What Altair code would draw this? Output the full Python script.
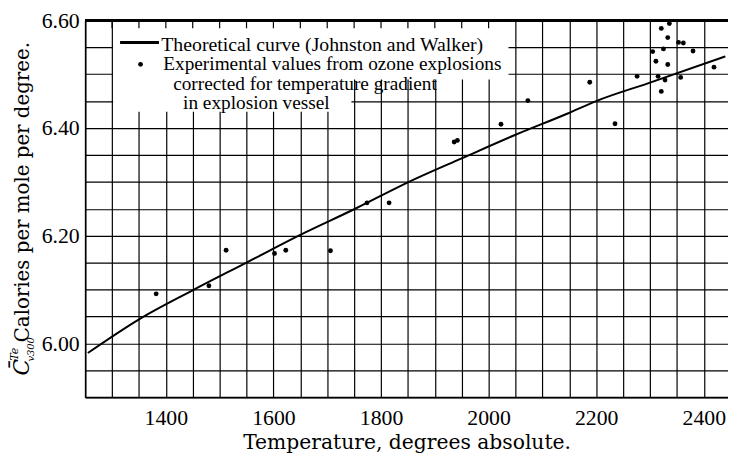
import altair as alt
import pandas as pd

# ---- data ----
curve_T = [1255, 1351, 1449, 1550, 1649, 1752, 1850, 1951, 2049, 2147, 2200, 2296, 2440]
curve_Cv = [5.982, 6.045, 6.098, 6.150, 6.201, 6.250, 6.299, 6.344, 6.387, 6.427, 6.450, 6.483, 6.533]

exp_T = [1382, 1480, 1512, 1602, 1623, 1706, 1774, 1815, 1936, 1942, 2023, 2073, 2188, 2235, 2276,
         2321, 2336, 2333, 2353, 2362, 2305, 2325, 2380, 2311, 2333, 2315, 2328, 2357, 2419, 2321]
exp_Cv = [6.092, 6.107, 6.173, 6.167, 6.173, 6.172, 6.261, 6.261, 6.374, 6.377, 6.407, 6.451, 6.485, 6.408, 6.496,
          6.585, 6.594, 6.568, 6.559, 6.558, 6.542, 6.547, 6.543, 6.524, 6.518, 6.496, 6.489, 6.494, 6.513, 6.468]

x_grid = list(range(1250, 2445, 50))
y_grid = [round(5.90 + 0.05 * i, 2) for i in range(15)]

legend_lines = [
    "Theoretical curve  (Johnston and Walker)",
    "Experimental values from ozone explosions",
    "corrected for temperature gradient",
    "in explosion vessel",
]

curve_df = pd.DataFrame({"T": curve_T, "Cv": curve_Cv})
exp_df = pd.DataFrame({"T": exp_T, "Cv": exp_Cv})
box_df = pd.DataFrame({"T": [1302, 1302], "T2": [2037, 1745], "Cv": [6.49, 6.43], "Cv2": [6.598, 6.598]})
tick_df = pd.DataFrame({"T": [v for v in x_grid if 1300 <= v <= 2000]})

TEXT_FONT = "DejaVu Serif"
NUM_FONT = "Liberation Serif"

xscale = alt.Scale(domain=[1250, 2445], nice=False, zero=False)
yscale = alt.Scale(domain=[5.90, 6.60], nice=False, zero=False)
xaxis = alt.Axis(
    values=x_grid, grid=True, ticks=False,
    labelExpr="datum.value % 200 == 0 ? datum.label : ''", format="d",
    title="Temperature, degrees absolute.", labelPadding=11, titlePadding=4,
)
yaxis = alt.Axis(
    values=y_grid, grid=True, ticks=False,
    labelExpr="round(datum.value * 100) % 20 == 0 ? format(datum.value, '.2f') : ''",
    title=None, labelPadding=6,
)


def X(f):
    return alt.X(f"{f}:Q", scale=xscale, axis=xaxis)


def Y(f):
    return alt.Y(f"{f}:Q", scale=yscale, axis=yaxis)


box = alt.Chart(box_df).mark_rect(color="white").encode(x=X("T"), x2="T2", y=Y("Cv"), y2="Cv2")
top_ticks = alt.Chart(tick_df).mark_rule(color="black", strokeWidth=1.2).encode(
    x=X("T"), y=alt.value(0), y2=alt.value(8))
top_frame = alt.Chart(tick_df).mark_rule(color="black", strokeWidth=1.8).encode(
    x=alt.value(0), x2=alt.value(650), y=alt.value(0))
curve = alt.Chart(curve_df).mark_line(color="black", strokeWidth=2, interpolate="monotone").encode(
    x=X("T"), y=Y("Cv"))
points = alt.Chart(exp_df).mark_circle(color="black", size=24, opacity=1).encode(x=X("T"), y=Y("Cv"))


def txt(s, x, y, size, font=TEXT_FONT, angle=0, style="normal"):
    return alt.Chart(pd.DataFrame({"s": [s]})).mark_text(
        align="left", baseline="alphabetic", font=font, fontSize=size, angle=angle,
        color="black", fontStyle=style,
    ).encode(x=alt.value(x), y=alt.value(y), text="s:N")


leg_rule = alt.Chart(tick_df).mark_rule(color="black", strokeWidth=2).encode(
    x=alt.value(36), x2=alt.value(74), y=alt.value(22.5))
leg_dot = alt.Chart(pd.DataFrame({"s": ["dot"]})).mark_circle(color="black", size=24, opacity=1).encode(
    x=alt.value(56), y=alt.value(44.5))

LEG = NUM_FONT
leg_texts = [
    txt(legend_lines[0], 77, 30.8, 20, font=LEG),
    txt(legend_lines[1], 79, 50.5, 19.5, font=LEG),
    txt(legend_lines[2], 89, 70, 19.5, font=LEG),
    txt(legend_lines[3], 99, 89.5, 19.5, font=LEG),
]

ytitle = [
    txt("C\u0304", -57, 359, 22, angle=270, style="italic"),
    txt("Te", -68, 344, 11, angle=270, style="italic"),
    txt("v300", -52, 345, 10, angle=270, style="italic"),
    txt("Calories per mole per degree.", -57, 325.5, 20, angle=270),
]

chart = alt.layer(
    box, top_ticks, top_frame, curve, points, leg_rule, leg_dot, *leg_texts, *ytitle
).properties(
    width=650, height=381,
    autosize=alt.AutoSizeParams(type="none"),
    padding={"left": 78, "top": 10, "right": 0, "bottom": 57},
    background="white",
).configure_view(strokeWidth=0).configure_axis(
    gridColor="black", gridWidth=1.2, gridOpacity=1,
    domainColor="black", domainWidth=1.6,
    labelFont=NUM_FONT, labelFontSize=22, labelColor="black",
    titleFont=TEXT_FONT, titleFontSize=20.5, titleFontWeight="normal", titleColor="black",
)

chart.save("out.html", embed_options={"renderer": "svg", "actions": False})
